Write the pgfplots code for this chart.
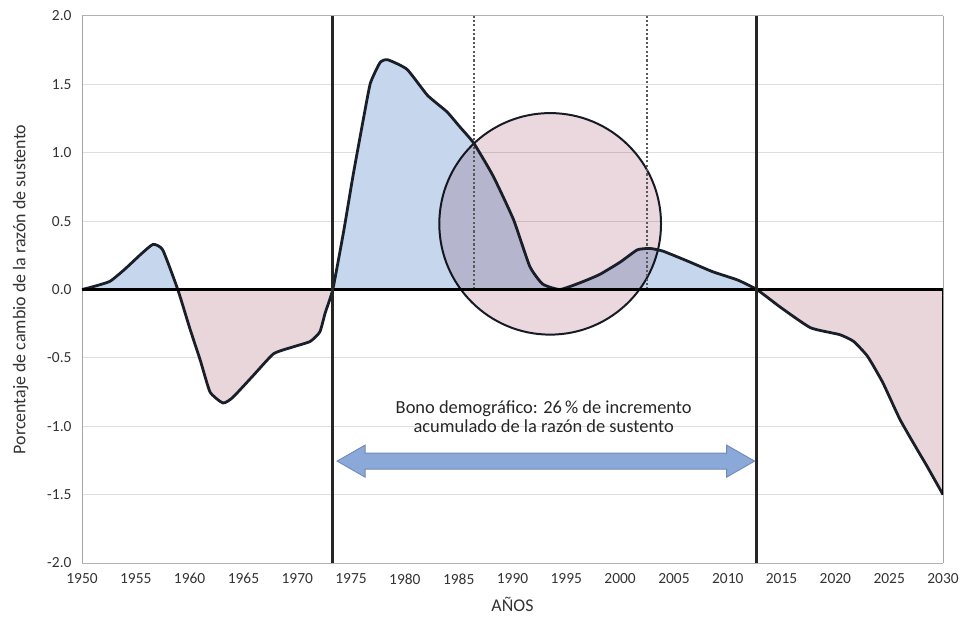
\documentclass[border=0pt]{standalone}
\usepackage{pgfplots}
\pgfplotsset{compat=1.18}
\usepackage{pgfplotstable}
\usepackage{fontspec}
\setmainfont{Carlito}

\definecolor{areablue}{RGB}{198,214,236}
\definecolor{areapink}{RGB}{233,214,219}
\definecolor{circpink}{RGB}{234,216,222}
\definecolor{arrowfill}{RGB}{138,168,216}
\definecolor{arrowedge}{RGB}{110,138,184}
\definecolor{curve}{RGB}{25,30,40}
\definecolor{gridgray}{RGB}{222,222,222}

% cambio porcentual de la razon de sustento
\pgfplotstableread{
year val
1950   0
1951   0.02
1952.6 0.06
1954   0.15
1955.5 0.26
1956.6 0.33
1957.5 0.29
1958.9 0
1960   -0.28
1961   -0.52
1961.9 -0.75
1963.1 -0.83
1964   -0.79
1965.9 -0.63
1967.8 -0.47
1969.6 -0.42
1971.2 -0.38
1972.1 -0.31
1972.6 -0.17
1973.3 0
1974.3 0.42
1975.2 0.84
1976.2 1.27
1976.8 1.51
1977.7 1.66
1978.4 1.68
1980.2 1.61
1982.1 1.42
1983.9 1.30
1985.1 1.19
1986.4 1.07
1988.2 0.83
1990.1 0.51
1991.6 0.17
1992.8 0.04
1994.4 0.0
1996.3 0.05
1998.1 0.11
2000   0.20
2001.6 0.29
2002.8 0.30
2004   0.28
2006.2 0.21
2008.6 0.13
2010.9 0.07
2012.7 0
2014.9 -0.13
2017.7 -0.28
2020.4 -0.33
2021.7 -0.38
2023   -0.49
2024.4 -0.68
2026   -0.95
2027.6 -1.17
2028.5 -1.29
2030   -1.50
}\razon

\begin{document}
\begin{tikzpicture}
\begin{axis}[
  scale only axis, width=861bp, height=547bp,
  xmin=1950, xmax=2030, ymin=-2, ymax=2,
  xtick={1950,1955,...,2030}, ytick={-2,-1.5,...,2},
  x tick label style={/pgf/number format/1000 sep={}},
  y tick label style={/pgf/number format/fixed, /pgf/number format/fixed zerofill, /pgf/number format/precision=1},
  /pgf/number format/assume math mode=true,
  tick label style={font=\fontsize{15.5}{15.5}\selectfont, text=black!80},
  major tick length=0pt,
  ymajorgrids, grid style={gridgray, line width=1pt},
  axis line style={draw=black!18, line width=1pt},
  separate axis lines,
  y axis line style={draw=black!35},
  x axis line style={draw=black!30},
  xlabel={AÑOS}, ylabel={Porcentaje de cambio de la razón de sustento},
  label style={font=\fontsize{18}{18}\selectfont, text=black!80},
  xlabel style={yshift=-6bp},
  ylabel style={yshift=12bp},
  yticklabel style={xshift=-7bp},
  xticklabel style={yshift=-7bp},
]
% areas
\addplot[fill=areablue, draw=none, smooth, tension=0.3, restrict x to domain=1950:1958.9] table {\razon} \closedcycle;
\addplot[fill=areapink, draw=none, smooth, tension=0.3, restrict x to domain=1958.9:1973.3] table {\razon} \closedcycle;
\addplot[fill=areablue, draw=none, smooth, tension=0.3, restrict x to domain=1973.3:2012.7] table {\razon} \closedcycle;
\addplot[fill=areapink, draw=none, smooth, tension=0.3, restrict x to domain=2012.7:2030] table {\razon} \closedcycle;

% circulo
\draw[fill=circpink, blend mode=multiply, draw=curve, line width=2pt]
  (axis cs:1993.5,0.48) ellipse [x radius=10.3, y radius=0.81];

% lineas punteadas
\addplot[black!65, line width=2.2pt, dash pattern=on 2.2pt off 2.2pt] coordinates {(1986.4,0) (1986.4,2)};
\addplot[black!65, line width=2.2pt, dash pattern=on 2.2pt off 2.2pt] coordinates {(2002.5,0) (2002.5,2)};

% curva
\addplot[curve, line width=2.8pt, line join=round, smooth, tension=0.3] table {\razon};
\addplot[black, line width=2.6pt] coordinates {(1950,0) (2030,0)};
\addplot[black, line width=2.6pt] coordinates {(2030,-1.5) (2030,0)};

% limites del bono
\addplot[black!85, line width=2.8pt] coordinates {(1973.3,-2) (1973.3,2)};
\addplot[black!85, line width=2.8pt] coordinates {(2012.7,-2) (2012.7,2)};

% flecha doble
\draw[fill=arrowfill, draw=arrowedge, line width=0.9pt]
  (axis cs:1973.7,-1.255) -- (axis cs:1976.3,-1.138) -- (axis cs:1976.3,-1.197)
  -- (axis cs:2009.9,-1.197) -- (axis cs:2009.9,-1.138) -- (axis cs:2012.5,-1.255)
  -- (axis cs:2009.9,-1.372) -- (axis cs:2009.9,-1.313) -- (axis cs:1976.3,-1.313)
  -- (axis cs:1976.3,-1.372) -- cycle;

\node[align=center, font=\fontsize{18.5}{19}\selectfont, text=black!85]
  at (axis cs:1992.9,-0.93) {Bono demográfico: 26\,\% de incremento\\acumulado de la razón de sustento};
\end{axis}
\pgfresetboundingbox
\path (-82bp,-59bp) rectangle (882bp,563bp);
\end{tikzpicture}
\end{document}
